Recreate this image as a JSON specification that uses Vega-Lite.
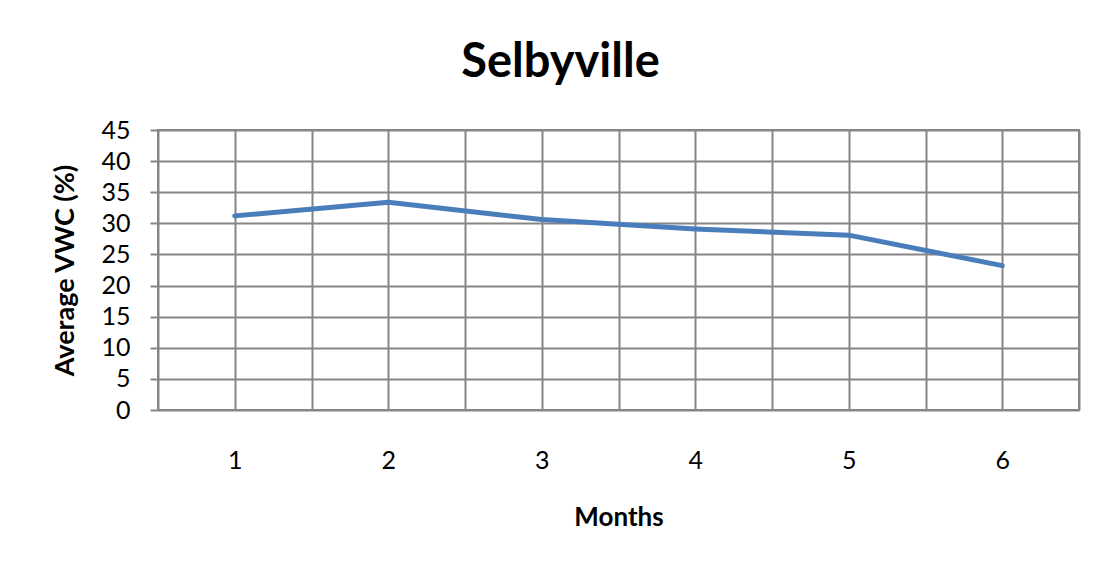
{
  "$schema": "https://vega.github.io/schema/vega-lite/v6.json",
  "autosize": "none",
  "width": 921,
  "height": 280,
  "padding": {"left": 158, "top": 130, "right": 29, "bottom": 153},
  "background": "white",
  "title": {
    "text": "Selbyville",
    "font": "Lato",
    "fontSize": 47,
    "fontWeight": "bold",
    "color": "black",
    "anchor": "middle",
    "dx": -58,
    "offset": -6,
    "baseline": "alphabetic"
  },
  "data": {
    "values": [
      {"month": 1, "vwc": 31.2},
      {"month": 2, "vwc": 33.4},
      {"month": 3, "vwc": 30.6},
      {"month": 4, "vwc": 29.1},
      {"month": 5, "vwc": 28.1},
      {"month": 6, "vwc": 23.2}
    ]
  },
  "mark": {"type": "line", "color": "#4a7ebb", "strokeWidth": 5, "strokeCap": "round", "strokeJoin": "round"},
  "encoding": {
    "x": {
      "field": "month",
      "type": "quantitative",
      "scale": {"domain": [0.5, 6.5], "nice": false, "zero": false},
      "axis": {
        "values": [0.5, 1, 1.5, 2, 2.5, 3, 3.5, 4, 4.5, 5, 5.5, 6, 6.5],
        "labelExpr": "datum.value % 1 === 0 ? format(datum.value, 'd') : ''",
        "grid": true,
        "gridColor": "#868686",
        "gridWidth": 2,
        "ticks": false,
        "domain": false,
        "labelFont": "Lato",
        "labelFontSize": 25,
        "labelColor": "black",
        "labelPadding": 38,
        "title": "Months",
        "titleFont": "Lato",
        "titleFontSize": 26,
        "titleFontWeight": "bold",
        "titleColor": "black",
        "titlePadding": 31
      }
    },
    "y": {
      "field": "vwc",
      "type": "quantitative",
      "scale": {"domain": [0, 45], "nice": false},
      "axis": {
        "values": [0, 5, 10, 15, 20, 25, 30, 35, 40, 45],
        "grid": true,
        "gridColor": "#868686",
        "gridWidth": 2,
        "ticks": true,
        "tickSize": 8,
        "tickColor": "#868686",
        "tickWidth": 2,
        "domain": false,
        "labelFont": "Lato",
        "labelFontSize": 25,
        "labelColor": "black",
        "labelPadding": 20,
        "title": "Average VWC (%)",
        "titleFont": "Lato",
        "titleFontSize": 27,
        "titleFontWeight": "bold",
        "titleColor": "black",
        "titlePadding": 21
      }
    }
  },
  "config": {"view": {"stroke": "#868686", "strokeWidth": 2}}
}
